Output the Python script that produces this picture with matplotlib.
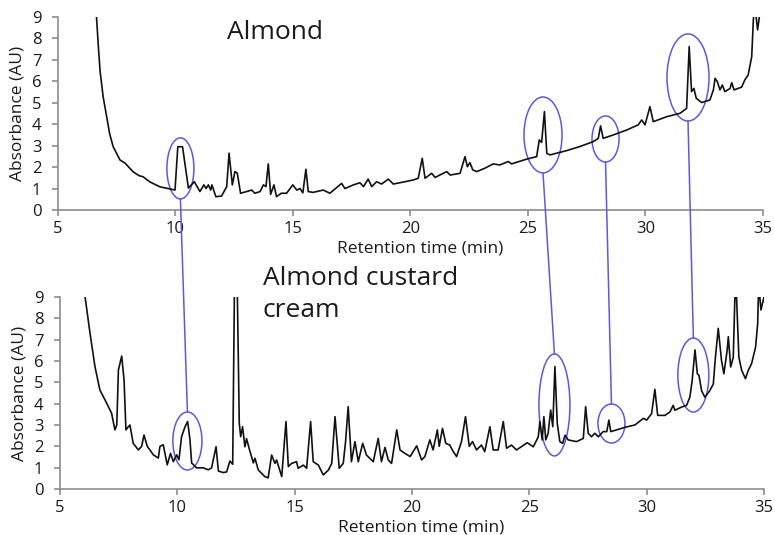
import numpy as np
import matplotlib
matplotlib.use("Agg")
import matplotlib.pyplot as plt
from matplotlib.patches import Ellipse, ConnectionPatch

plt.rcParams['font.family'] = ['Open Sans', 'DejaVu Sans']

# Almond extract chromatogram (retention time in min, absorbance in AU)
almond_t = [6.62, 6.64, 6.72, 6.79, 6.92, 7.07, 7.20, 7.35, 7.64, 7.85, 8.20, 8.45, 8.62, 8.91,
            9.34, 9.77, 9.98,
            10.10, 10.30, 10.55, 10.80, 11.04, 11.21, 11.30, 11.40, 11.50, 11.55, 11.72, 11.96,
            12.18, 12.28, 12.42, 12.53, 12.63, 12.77, 13.03, 13.24, 13.38, 13.60, 13.74, 13.85,
            13.95, 14.05, 14.19, 14.30, 14.50, 14.73, 14.99, 15.16, 15.30, 15.42, 15.55, 15.65,
            15.85, 16.29, 16.57, 16.86, 17.07, 17.21, 17.57, 17.85, 18.00, 18.20, 18.35, 18.56,
            18.77, 19.06, 19.27, 19.55, 19.77, 20.12, 20.33, 20.50, 20.62, 20.90, 21.05, 21.54,
            21.69, 22.11, 22.32, 22.42, 22.53, 22.65, 22.82, 23.17, 23.52, 23.80, 24.16, 24.30,
            24.94, 25.37, 25.48, 25.58, 25.70, 25.80, 25.94, 26.65, 27.21, 27.78, 27.99, 28.09,
            28.20, 28.63, 29.20, 29.69, 29.84, 29.98, 30.19, 30.33, 30.90, 31.47, 31.75, 31.86,
            31.96, 32.06, 32.16, 32.39, 32.74, 32.89, 32.96, 33.06, 33.17, 33.27, 33.38, 33.60,
            33.67, 33.77, 34.09, 34.23, 34.37, 34.52, 34.59, 34.63, 34.70, 34.77, 34.87]
almond_au = [9.20, 9.00, 7.60, 6.50, 5.30, 4.35, 3.55, 2.95, 2.33, 2.19, 1.78, 1.60, 1.55, 1.31,
             1.08, 0.98, 0.93,
             2.95, 2.95, 1.02, 1.32, 0.86, 1.17, 1.00, 1.17, 0.93, 1.17, 0.62, 0.65,
             1.09, 2.65, 1.17, 1.79, 1.72, 0.78, 0.86, 0.93, 0.78, 0.86, 1.17, 1.09,
             2.15, 0.73, 1.17, 0.62, 0.78, 0.78, 1.17, 0.93, 1.00, 0.80, 1.90, 0.86,
             0.82, 0.93, 0.78, 1.05, 1.24, 1.00, 1.17, 1.27, 1.09, 1.44, 1.09, 1.32,
             1.21, 1.44, 1.21, 1.27, 1.32, 1.40, 1.48, 2.41, 1.48, 1.71, 1.52, 1.79,
             1.63, 1.71, 2.49, 2.02, 2.21, 1.87, 1.79, 1.95, 2.15, 2.10, 2.26, 2.15,
             2.37, 2.49, 3.27, 3.15, 4.59, 2.64, 2.57, 2.77, 2.96, 3.19, 3.34, 3.92,
             3.34, 3.50, 3.73, 3.97, 4.20, 3.97, 4.82, 4.12, 4.35, 4.51, 4.74, 7.62,
             5.52, 5.67, 5.21, 5.01, 5.13, 5.60, 6.14, 5.98, 5.60, 5.83, 5.52, 5.67,
             5.94, 5.60, 5.73, 6.07, 6.30, 7.15, 8.86, 9.40, 9.10, 8.40, 9.20]

# Almond custard cream chromatogram
custard_t = [6.02, 6.07, 6.28, 6.49, 6.70, 6.99, 7.20, 7.34, 7.42, 7.49, 7.63, 7.73, 7.81, 7.90,
             7.98, 8.12, 8.34, 8.48, 8.58, 8.72, 8.98, 9.19, 9.26, 9.40, 9.50, 9.57, 9.71, 9.83,
             9.97, 10.07, 10.18, 10.33, 10.44, 10.54, 10.61, 10.82, 11.11, 11.32, 11.46, 11.65,
             11.75, 11.96, 12.10, 12.24, 12.36, 12.43, 12.50, 12.56, 12.64, 12.70, 12.78, 12.88,
             12.95, 13.06, 13.24, 13.31, 13.45, 13.73, 13.87, 14.02, 14.16, 14.23, 14.45, 14.63,
             14.73, 14.87, 15.08, 15.15, 15.37, 15.51, 15.68, 15.79, 16.01, 16.22, 16.44, 16.58,
             16.72, 16.90, 17.07, 17.17, 17.28, 17.42, 17.57, 17.71, 17.90, 18.06, 18.20, 18.35,
             18.56, 18.70, 18.85, 18.99, 19.13, 19.35, 19.49, 19.70, 19.92, 20.20, 20.41, 20.55,
             20.76, 20.90, 21.08, 21.16, 21.30, 21.44, 21.61, 21.76, 21.90, 22.11, 22.28, 22.44,
             22.58, 22.75, 22.96, 23.10, 23.32, 23.46, 23.67, 23.89, 24.03, 24.24, 24.45, 24.66,
             24.91, 25.17, 25.38, 25.45, 25.55, 25.62, 25.70, 25.80, 25.91, 26.00, 26.09, 26.19,
             26.30, 26.42, 26.52, 26.66, 27.01, 27.30, 27.40, 27.51, 27.65, 27.79, 27.94, 28.15,
             28.30, 28.39, 28.47, 28.72, 29.07, 29.50, 29.86, 30.00, 30.21, 30.35, 30.47, 30.78,
             30.99, 31.13, 31.20, 31.49, 31.70, 31.84, 31.94, 32.06, 32.16, 32.23, 32.34, 32.48,
             32.69, 32.84, 32.93, 33.05, 33.19, 33.29, 33.43, 33.48, 33.58, 33.69, 33.76, 33.80,
             33.83, 33.93, 34.05, 34.21, 34.33, 34.47, 34.64, 34.73, 34.76, 34.80, 34.87, 35.00]
custard_au = [9.40, 9.00, 7.30, 5.74, 4.64, 4.02, 3.55, 2.77, 3.00, 5.58, 6.23, 5.11, 2.77, 2.90,
              3.00, 2.14, 1.83, 2.00, 2.53, 2.00, 1.60, 1.45, 2.00, 2.07, 1.53, 1.13, 1.67, 1.28,
              1.60, 1.37, 2.45, 2.92, 3.16, 2.30, 1.22, 0.99, 0.99, 0.90, 0.99, 1.98,
              0.84, 0.77, 0.80, 1.31, 1.16, 9.00, 11.0, 9.00, 3.08, 2.45, 2.92, 1.98,
              2.36, 1.90, 1.22, 1.44, 0.89, 0.58, 0.52, 1.59, 1.20, 1.36, 0.58, 3.16,
              1.05, 1.20, 1.28, 0.97, 1.12, 0.97, 3.16, 1.28, 1.12, 0.66, 0.89, 1.20,
              3.39, 0.97, 1.20, 2.22, 3.86, 1.28, 2.22, 1.28, 2.14, 1.59, 1.44, 1.28,
              2.37, 1.28, 1.95, 1.36, 1.20, 2.77, 1.83, 1.67, 1.52, 2.02, 1.36, 1.52,
              2.30, 1.83, 2.77, 2.00, 2.84, 2.14, 2.06, 1.75, 1.52, 2.22, 3.39, 2.00,
              2.22, 1.83, 2.06, 1.75, 2.92, 1.83, 1.83, 3.16, 1.91, 2.06, 1.83, 1.98,
              2.17, 1.98, 2.44, 3.16, 2.30, 3.39, 2.30, 2.60, 3.70, 2.92, 5.74, 3.08,
              2.22, 2.14, 2.52, 2.30, 2.22, 2.37, 3.86, 2.61, 2.45, 2.61, 2.45, 2.69,
              2.69, 3.23, 2.69, 2.77, 2.89, 3.00, 3.31, 3.23, 3.53, 4.67, 3.45, 3.45,
              3.61, 3.92, 3.69, 3.84, 3.92, 4.30, 5.09, 6.52, 5.40, 5.32, 4.61, 4.30,
              4.61, 4.92, 6.17, 7.53, 6.02, 5.40, 6.50, 7.14, 5.72, 6.17, 9.00, 9.50,
              9.00, 6.17, 5.56, 5.17, 5.56, 5.87, 6.64, 7.73, 9.00, 9.30, 8.39, 9.00]

x_ticks = [5, 10, 15, 20, 25, 30, 35]
y_ticks = [0, 1, 2, 3, 4, 5, 6, 7, 8, 9]

# peaks ringed in both runs: (centre time, centre AU, width min, height AU)
almond_rings = [(10.21, 1.94, 1.15, 2.85), (25.64, 3.50, 1.62, 3.54),
                (28.30, 3.31, 1.15, 2.15), (31.81, 6.18, 1.79, 4.06)]
custard_rings = [(10.43, 2.25, 1.24, 2.72), (26.07, 3.94, 1.32, 4.78),
                 (28.50, 3.07, 1.15, 1.83), (31.99, 5.34, 1.32, 3.47)]

ring_color = '#5a5ade'
text_color = '#1a1a1a'
axis_color = '#8c8c8c'

fig = plt.figure(figsize=(7.75, 5.35), dpi=100)
ax1 = fig.add_axes([0.0748, 0.6075, 0.9097, 0.3607])
ax2 = fig.add_axes([0.0774, 0.0860, 0.9084, 0.3589])

for ax, t, au in [(ax1, almond_t, almond_au), (ax2, custard_t, custard_au)]:
    ax.plot(t, au, color='#111111', lw=1.2)
    ax.set_xlim(5, 35)
    ax.set_ylim(0, 9)
    ax.set_xticks(x_ticks)
    ax.set_yticks(y_ticks)
    for side in ['top', 'right']:
        ax.spines[side].set_visible(False)
    for side in ['left', 'bottom']:
        ax.spines[side].set_color(axis_color)
        ax.spines[side].set_linewidth(1.2)
    ax.tick_params(axis='x', direction='out', length=4, width=1.2, color=axis_color,
                   labelsize=12, labelcolor=text_color, pad=4)
    ax.tick_params(axis='y', direction='out', length=4, width=1.2, color=axis_color,
                   labelsize=12, labelcolor=text_color, pad=8)
    ax.set_xlabel('Retention time (min)', fontsize=12.5, color=text_color)
    ax.set_ylabel('Absorbance (AU)', fontsize=12.5, color=text_color)
    ax.xaxis.set_label_coords(0.513, -0.16)
    ax.yaxis.set_label_coords(-0.046, 0.5)
    ax.patch.set_alpha(0)

fig.text(227 / 775, 1 - 39.3 / 535, 'Almond', fontsize=19, color=text_color,
         ha='left', va='baseline')
fig.text(263 / 775, 1 - 316.7 / 535, 'Almond custard\ncream', fontsize=19,
         color=text_color, ha='left', va='baseline', linespacing=1.35)

# ring the shared peaks and link them across the two runs
for (ta, ya, wa, ha), (tb, yb, wb, hb) in zip(almond_rings, custard_rings):
    ax1.add_patch(Ellipse((ta, ya), wa, ha, fill=False, ec=ring_color, lw=1.1))
    ax2.add_patch(Ellipse((tb, yb), wb, hb, fill=False, ec=ring_color, lw=1.1))
    link = ConnectionPatch(xyA=(ta, ya - ha / 2), coordsA=ax1.transData,
                           xyB=(tb, yb + hb / 2), coordsB=ax2.transData,
                           color=ring_color, lw=1.1)
    fig.add_artist(link)

fig.savefig('out.png', dpi=100)
